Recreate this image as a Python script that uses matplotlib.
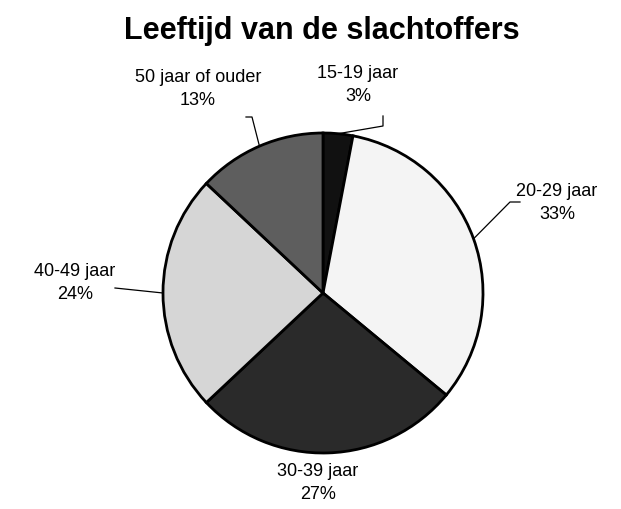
import numpy as np
import matplotlib
matplotlib.use("Agg")
import matplotlib.pyplot as plt

plt.rcParams['font.family'] = ['Liberation Sans', 'DejaVu Sans']

categories = ["15-19 jaar", "20-29 jaar", "30-39 jaar", "40-49 jaar", "50 jaar of ouder"]
values = [3, 33, 27, 24, 13]
colors = ["#111111", "#f4f4f4", "#2a2a2a", "#d6d6d6", "#5e5e5e"]

W, H = 621, 510
fig = plt.figure(figsize=(W / 100, H / 100), dpi=100)
ax = fig.add_axes([0, 0, 1, 1])

cx, cy, R = 323, H - 294, 160
wedges, _ = ax.pie(values, colors=colors, startangle=90, counterclock=False,
                   center=(cx, cy), radius=R, frame=True,
                   wedgeprops=dict(edgecolor='black', linewidth=2))
ax.set_xlim(0, W)
ax.set_ylim(0, H)
ax.set_aspect('equal')
ax.axis('off')

# label positions (image px) and leader elbow points
label_pos = [(358, 85), (557, 203), (318, 483), (75, 283), (198, 89)]
elbows = [[(383, 127), (383, 117)],
          [(510, 203), (520, 203)],
          None,
          [(115, 289)],
          [(252, 118), (246, 118)]]

total = sum(values)
cum = 0
for i, (cat, v) in enumerate(zip(categories, values)):
    mid = (cum + v / 2) / total * 360.0
    cum += v
    arc_pt = (cx + R * np.sin(np.radians(mid)), cy + R * np.cos(np.radians(mid)))
    lx, ly = label_pos[i]
    ax.text(lx, H - ly, f"{cat}\n{v}%", ha='center', va='center', fontsize=13,
            linespacing=1.4)
    if elbows[i]:
        pts = [arc_pt] + [(x, H - y) for x, y in elbows[i]]
        xs, ys = zip(*pts)
        ax.plot(xs, ys, color='black', lw=0.9)

ax.text(322, H - 31, "Leeftijd van de slachtoffers", ha='center', va='center',
        fontsize=22, fontweight='bold')

fig.savefig("out.png", dpi=100)
